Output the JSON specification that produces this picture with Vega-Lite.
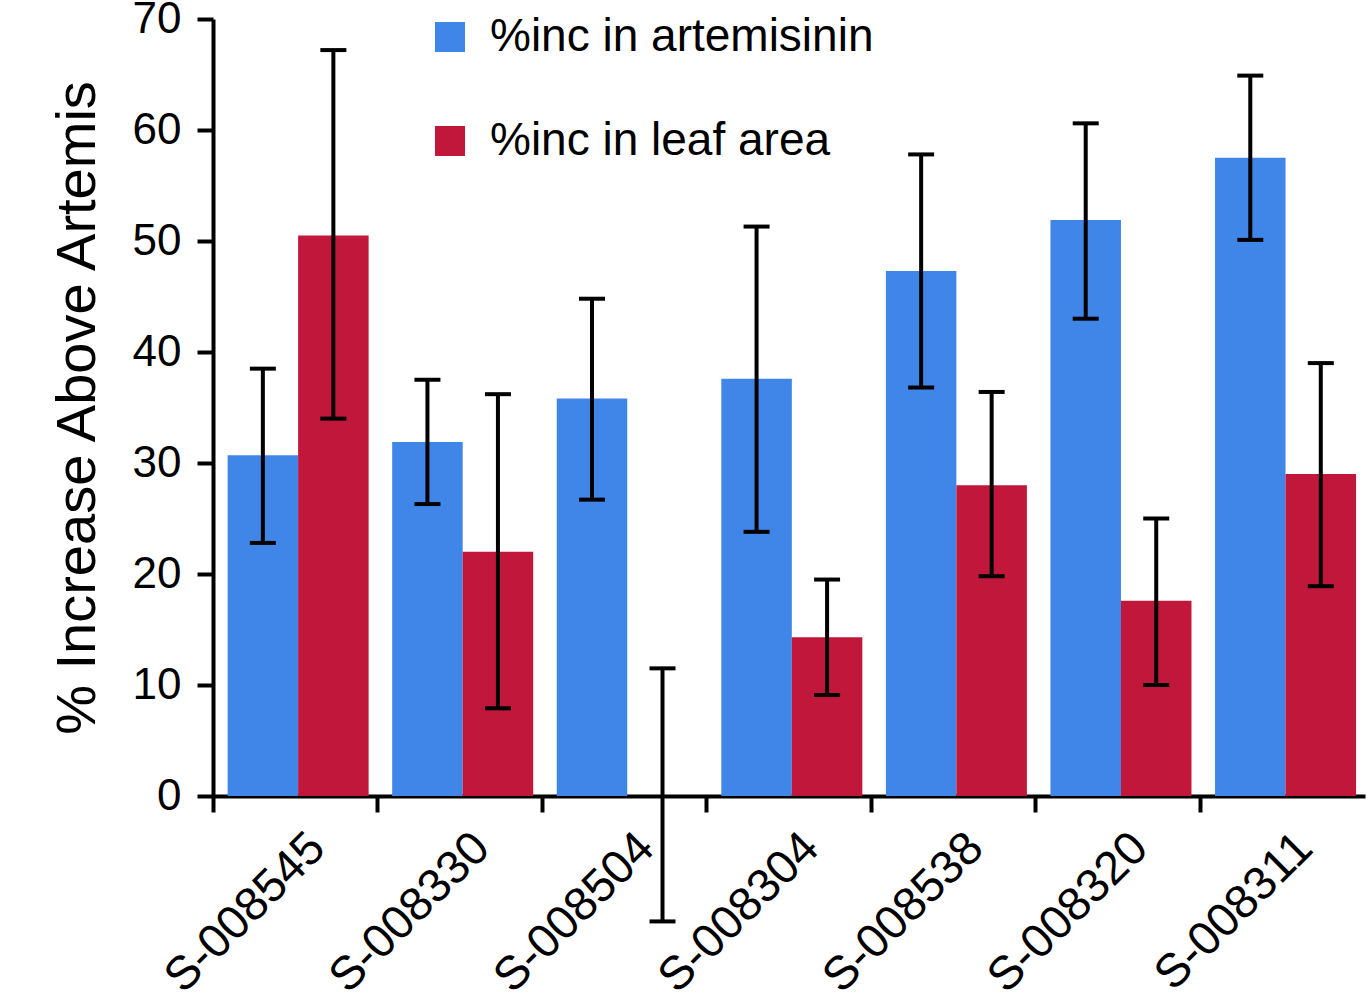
{
  "$schema": "https://vega.github.io/schema/vega-lite/v6.json",
  "width": 1152,
  "height": 777,
  "autosize": "none",
  "padding": {"left": 213, "top": 19, "right": 7, "bottom": 207},
  "background": "white",
  "config": {"view": {"stroke": null}, "font": "Liberation Sans"},
  "data": {
    "values": [
      {"strain": "S-008545", "measure": "%inc in artemisinin", "value": 30.7, "lo": 22.8, "hi": 38.5},
      {"strain": "S-008545", "measure": "%inc in leaf area", "value": 50.5, "lo": 34.0, "hi": 67.2},
      {"strain": "S-008330", "measure": "%inc in artemisinin", "value": 31.9, "lo": 26.3, "hi": 37.5},
      {"strain": "S-008330", "measure": "%inc in leaf area", "value": 22.0, "lo": 7.9, "hi": 36.2},
      {"strain": "S-008504", "measure": "%inc in artemisinin", "value": 35.8, "lo": 26.7, "hi": 44.8},
      {"strain": "S-008504", "measure": "%inc in leaf area", "value": 0, "lo": -11.3, "hi": 11.5},
      {"strain": "S-008304", "measure": "%inc in artemisinin", "value": 37.6, "lo": 23.8, "hi": 51.3},
      {"strain": "S-008304", "measure": "%inc in leaf area", "value": 14.3, "lo": 9.1, "hi": 19.5},
      {"strain": "S-008538", "measure": "%inc in artemisinin", "value": 47.3, "lo": 36.8, "hi": 57.8},
      {"strain": "S-008538", "measure": "%inc in leaf area", "value": 28.0, "lo": 19.8, "hi": 36.4},
      {"strain": "S-008320", "measure": "%inc in artemisinin", "value": 51.9, "lo": 43.0, "hi": 60.6},
      {"strain": "S-008320", "measure": "%inc in leaf area", "value": 17.6, "lo": 10.0, "hi": 25.0},
      {"strain": "S-008311", "measure": "%inc in artemisinin", "value": 57.5, "lo": 50.1, "hi": 64.9},
      {"strain": "S-008311", "measure": "%inc in leaf area", "value": 29.0, "lo": 18.9, "hi": 39.0}
    ]
  },
  "encoding": {
    "x": {
      "field": "strain",
      "type": "nominal",
      "sort": null,
      "title": null,
      "scale": {"paddingInner": 0, "paddingOuter": 0},
      "axis": {
        "labelAngle": -45,
        "labelFontSize": 47,
        "labelColor": "black",
        "labelPadding": 12,
        "labelLimit": 400,
        "labelOffset": 6,
        "tickSize": 16,
        "tickWidth": 4,
        "tickColor": "black",
        "domainWidth": 4,
        "domainColor": "black",
        "bandPosition": 0,
        "grid": false
      }
    },
    "xOffset": {
      "field": "measure",
      "type": "nominal",
      "sort": null,
      "scale": {"paddingInner": 0, "paddingOuter": 0.167, "align": 0.62}
    }
  },
  "layer": [
    {
      "mark": {"type": "bar"},
      "encoding": {
        "y": {
          "field": "value",
          "type": "quantitative",
          "title": "% Increase Above Artemis",
          "scale": {"domain": [0, 70], "nice": false},
          "axis": {
            "values": [0, 10, 20, 30, 40, 50, 60, 70],
            "grid": false,
            "labelFontSize": 44,
            "labelColor": "black",
            "labelPadding": 16,
            "tickSize": 16,
            "tickWidth": 4,
            "tickColor": "black",
            "domainWidth": 4,
            "domainColor": "black",
            "titleFontSize": 56,
            "titleFontWeight": "normal",
            "titleColor": "black",
            "titlePadding": 26
          }
        },
        "color": {
          "field": "measure",
          "type": "nominal",
          "sort": null,
          "scale": {"domain": ["%inc in artemisinin", "%inc in leaf area"], "range": ["#4086e8", "#c1173b"]},
          "legend": {
            "title": null,
            "orient": "none",
            "legendX": 214,
            "legendY": -5,
            "padding": 0,
            "symbolType": "square",
            "symbolSize": 900,
            "symbolStrokeWidth": 0,
            "symbolOpacity": 1,
            "labelFontSize": 46,
            "labelColor": "black",
            "labelOffset": 17,
            "labelLimit": 800,
            "rowPadding": 58
          }
        }
      }
    },
    {
      "mark": {"type": "rule", "strokeWidth": 4, "color": "black"},
      "encoding": {
        "y": {"field": "lo", "type": "quantitative", "title": "% Increase Above Artemis"},
        "y2": {"field": "hi"}
      }
    },
    {
      "mark": {"type": "tick", "thickness": 4, "size": 26, "color": "black", "opacity": 1},
      "encoding": {
        "y": {"field": "lo", "type": "quantitative", "title": "% Increase Above Artemis"}
      }
    },
    {
      "mark": {"type": "tick", "thickness": 4, "size": 26, "color": "black", "opacity": 1},
      "encoding": {
        "y": {"field": "hi", "type": "quantitative", "title": "% Increase Above Artemis"}
      }
    }
  ]
}
